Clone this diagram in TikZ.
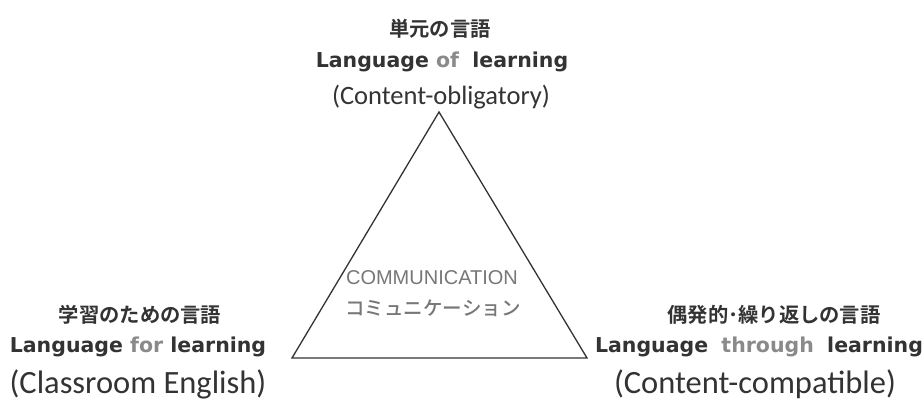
\documentclass[tikz,border=0pt]{standalone}
\usepackage{fontspec}
\setmainfont{Carlito}
\newfontfamily\jpfont{Noto Sans CJK JP Bold}
\newfontfamily\jpmed{Noto Sans CJK JP Medium}
\newfontfamily\boldfont{DejaVu Sans Bold}
\newfontfamily\arialfont{Liberation Sans}
\definecolor{txt}{HTML}{333333}
\definecolor{lite}{HTML}{8A8A8A}
\definecolor{comm}{HTML}{777777}
\tikzset{
  jp/.style={font=\jpfont\fontsize{20.3}{24}\selectfont, text=txt, inner sep=0pt},
  bold/.style={font=\boldfont\fontsize{20.5}{24}\selectfont, text=txt, inner sep=0pt},
  paren/.style={font=\fontsize{26.5}{30}\selectfont, text=txt, inner sep=0pt},
  parenbig/.style={font=\fontsize{32.5}{38}\selectfont, text=txt, inner sep=0pt},
  tri/.style={draw=txt, line width=1.3pt, line join=miter}
}
\begin{document}
\begin{tikzpicture}[x=1pt,y=-1pt]
\useasboundingbox (0,0) rectangle (924,405);
% triangle
\coordinate (top) at (439,112);
\coordinate (bl) at (292,358);
\coordinate (br) at (587,358);
\draw[tri] (top) -- (bl) -- (br) -- cycle;
% top labels
\node[jp] (tj) at (440,29) {単元の言語};
\node[bold] (tb) at (442,62) {Language \textcolor{lite}{of}\hspace{0.3em} learning};
\node[paren] (tp) at (441,97) {(Content-obligatory)};
% left labels
\node[jp] (lj) at (140,315) {学習のための言語};
\node[bold] (lb) at (138,347) {Language \textcolor{lite}{for} learning};
\node[parenbig] (lp) at (138,384) {(Classroom English)};
% right labels
\node[jp] (rj) at (774,315) {偶発的･繰り返しの言語};
\node[bold] (rb) at (759,347) {Language\hspace{0.3em} \textcolor{lite}{through}\hspace{0.3em} learning};
\node[parenbig] (rp) at (755,384) {(Content-compatible)};
% center
\node[font=\arialfont\fontsize{20}{24}\selectfont, text=comm, inner sep=0pt] (ce) at (432,278) {COMMUNICATION};
\node[font=\jpmed\fontsize{19.5}{23}\selectfont, text=comm, inner sep=0pt] (cj) at (433,308) {コミュニケーション};
\end{tikzpicture}
\end{document}
